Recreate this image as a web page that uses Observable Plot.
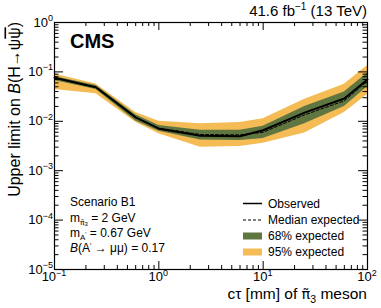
<!DOCTYPE html>
<html>
<head>
<meta charset="utf-8">
<script src="https://cdn.jsdelivr.net/npm/d3@7"></script>
<script src="https://cdn.jsdelivr.net/npm/@observablehq/plot@0.6"></script>
<style>
  html, body { margin: 0; padding: 0; background: white; }
  svg { display: block; }
</style>
</head>
<body>
<div id="chart"></div>
<script>
// ---- data ----
const ctau     = [0.1, 0.25, 0.6, 1, 2.5, 6, 10, 25, 60, 100];
const observed = [0.076, 0.049, 0.0120, 0.0071, 0.0051, 0.0050, 0.0066, 0.0150, 0.029, 0.070];
const expected = [0.075, 0.048, 0.0118, 0.0073, 0.0054, 0.0053, 0.0060, 0.0135, 0.026, 0.066];
const exp68Lo  = [0.067, 0.044, 0.0102, 0.0063, 0.0042, 0.0041, 0.0045, 0.0089, 0.020, 0.050];
const exp68Hi  = [0.081, 0.053, 0.0135, 0.0082, 0.0066, 0.0066, 0.0079, 0.0200, 0.039, 0.095];
const exp95Lo  = [0.044, 0.036, 0.0096, 0.0056, 0.0030, 0.0031, 0.0036, 0.0058, 0.015, 0.035];
const exp95Hi  = [0.091, 0.057, 0.0150, 0.0100, 0.0089, 0.0095, 0.0112, 0.0280, 0.056, 0.135];
const xTickValues = [0.1, 1, 10, 100];
const yTickValues = [1e-5, 1e-4, 1e-3, 1e-2, 1e-1, 1];
const legendLabels = ["Observed", "Median expected", "68% expected", "95% expected"];

const rows = ctau.map((x, i) => ({
  x, obs: observed[i], exp: expected[i],
  lo68: exp68Lo[i], hi68: exp68Hi[i], lo95: exp95Lo[i], hi95: exp95Hi[i]
}));

const W = 381, H = 308, ML = 54, MR = 14, MT = 22, MB = 39;
const PW = W - ML - MR, PH = H - MT - MB;
const GREEN = "#607641", YELLOW = "#F5BB54";
const FONT = "'Liberation Sans', Arial, Helvetica, sans-serif";
const MARKFONT = "'DejaVu Sans', sans-serif";

function minors(majors) {
  const out = [];
  for (let i = 0; i < majors.length - 1; i++)
    for (let k = 2; k <= 9; k++) out.push(majors[i] * k);
  return out;
}
const xMinor = minors(xTickValues);
const yMinor = minors(yTickValues);

const chart = Plot.plot({
  width: W, height: H,
  marginLeft: ML, marginRight: MR, marginTop: MT, marginBottom: MB,
  x: {type: "log", domain: [0.1, 100], axis: null},
  y: {type: "log", domain: [1e-5, 1], axis: null},
  style: {fontFamily: FONT, background: "white"},
  marks: [
    Plot.areaY(rows, {x: "x", y1: "lo95", y2: "hi95", fill: YELLOW}),
    Plot.areaY(rows, {x: "x", y1: "lo68", y2: "hi68", fill: GREEN}),
    Plot.line(rows, {x: "x", y: "exp", stroke: "black", strokeWidth: 1, strokeDasharray: "3,2"}),
    Plot.line(rows, {x: "x", y: "obs", stroke: "black", strokeWidth: 2}),
    // inward ticks, all four sides
    Plot.ruleX(xTickValues, {x: d => d, insetTop: PH - 8, stroke: "black"}),
    Plot.ruleX(xMinor, {x: d => d, insetTop: PH - 4, stroke: "black"}),
    Plot.ruleX(xTickValues, {x: d => d, insetBottom: PH - 8, stroke: "black"}),
    Plot.ruleX(xMinor, {x: d => d, insetBottom: PH - 4, stroke: "black"}),
    Plot.ruleY(yTickValues, {y: d => d, insetRight: PW - 9, stroke: "black"}),
    Plot.ruleY(yMinor, {y: d => d, insetRight: PW - 4.5, stroke: "black"}),
    Plot.ruleY(yTickValues, {y: d => d, insetLeft: PW - 9, stroke: "black"}),
    Plot.ruleY(yMinor, {y: d => d, insetLeft: PW - 4.5, stroke: "black"}),
    Plot.frame({stroke: "black", strokeWidth: 1.2})
  ]
});
document.getElementById("chart").appendChild(chart);

const sx = chart.scale("x"), sy = chart.scale("y");
const svg = d3.select(chart);
const g = svg.append("g").attr("font-family", FONT).attr("fill", "black");

// rich text helper: segments {t, sup, sub, it, over, size, font}
function rich(x, y, size, segs, anchor = "start", transform = null) {
  const t = g.append("text").attr("x", x).attr("y", y)
    .attr("font-size", size).attr("text-anchor", anchor);
  if (transform) t.attr("transform", transform);
  let shift = 0;
  for (const s of segs) {
    const ts = t.append("tspan").text(s.t);
    const target = s.sup ? -size * (s.lift ?? 0.42) : s.sub ? size * (s.drop ?? 0.28) : 0;
    if (target - shift !== 0) ts.attr("dy", target - shift);
    shift = target;
    if (s.sup || s.sub) ts.attr("font-size", s.size ?? size * 0.68);
    else if (s.size) ts.attr("font-size", s.size);
    if (s.it) ts.attr("font-style", "italic");
    if (s.bold) ts.attr("font-weight", "bold");
    if (s.font) ts.attr("font-family", s.font);
    if (s.over) ts.style("text-decoration", "overline");
  }
  return t;
}
const pow = v => String(Math.round(Math.log10(v))).replace("-", "\u2212");

// y tick labels
for (const v of yTickValues) {
  rich(53, sy.apply(v) + 4.5, 13, [{t: "10"}, {t: pow(v), sup: true, size: 9}], "end");
}
// x tick labels
for (const v of xTickValues) {
  rich(sx.apply(v), 281, 13, [{t: "10"}, {t: pow(v), sup: true, size: 9}], "middle");
}

// axis titles
rich(367, 298.5, 15.5, [{t: "c\u03C4 [mm] of "}, {t: "\u03C0\u0303", font: MARKFONT, size: 14.5},
  {t: "3", sub: true}, {t: " meson"}], "end");
rich(0, 0, 16, [
  {t: "Upper limit on "}, {t: "B", it: true}, {t: "(H\u2192\u03C8"}, {t: "\u03C8", over: true}, {t: ")"}
], "end", `translate(19.5,${MT}) rotate(-90)`);

// top right lumi text
rich(367, 16, 15, [{t: "41.6 fb"}, {t: "\u22121", sup: true, size: 10}, {t: " (13 TeV)"}], "end");

// CMS
rich(70, 48, 20, [{t: "CMS", bold: true}]);

// scenario box
rich(70, 206, 12, [{t: "Scenario B1"}]);
rich(70, 221.5, 12, [{t: "m"}, {t: "\u03C0\u0303", sub: true, size: 7.5, font: MARKFONT}, {t: "3", sub: true, size: 6, drop: 0.35}, {t: " = 2 GeV"}]);
rich(70, 237, 12, [{t: "m"}, {t: "A", sub: true, size: 8}, {t: "\u2032", sup: true, size: 6, lift: 0.1}, {t: " = 0.67 GeV"}]);
rich(70, 252, 12, [{t: "B", it: true}, {t: "(A"}, {t: "\u2032", sup: true, size: 7, lift: 0.3}, {t: " \u2192 \u03BC\u03BC) = 0.17"}]);

// legend
const lx = 243, lw = 19, tx = 268;
g.append("line").attr("x1", lx).attr("x2", lx + lw).attr("y1", 203.5).attr("y2", 203.5)
  .attr("stroke", "black").attr("stroke-width", 1.5);
g.append("line").attr("x1", lx).attr("x2", lx + lw).attr("y1", 220).attr("y2", 220)
  .attr("stroke", "black").attr("stroke-width", 1).attr("stroke-dasharray", "3,2");
g.append("rect").attr("x", lx).attr("y", 232.5).attr("width", lw).attr("height", 7).attr("fill", GREEN);
g.append("rect").attr("x", lx).attr("y", 248.5).attr("width", lw).attr("height", 7).attr("fill", YELLOW);
const lys = [207.5, 224, 240, 256];
legendLabels.forEach((s, i) => rich(tx, lys[i], 12, [{t: s}]));
</script>
</body>
</html>
